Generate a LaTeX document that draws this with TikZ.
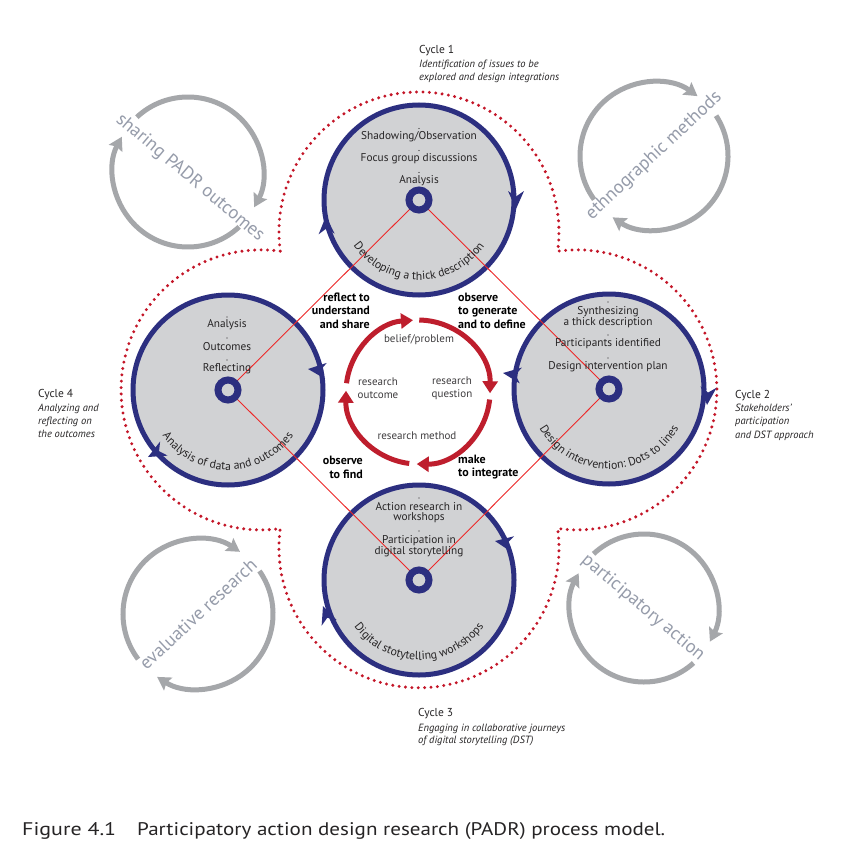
\documentclass[tikz,border=0pt]{standalone}
\usepackage{fontspec}
\setmainfont{PT Sans}
\usetikzlibrary{arrows.meta,decorations.text}
\definecolor{navy}{RGB}{44,47,128}
\definecolor{cfill}{RGB}{209,210,212}
\definecolor{dotred}{RGB}{196,22,40}
\definecolor{linered}{RGB}{237,40,40}
\definecolor{cycred}{RGB}{190,30,45}
\definecolor{garc}{RGB}{165,167,170}
\definecolor{gtext}{RGB}{150,156,170}
\definecolor{dtext}{RGB}{38,36,37}
\definecolor{ctext}{RGB}{62,60,62}
\newcommand{\navtip}[3]{\fill[navy,shift={(#1,#2)},rotate=#3] (0,0) -- (-18,8) -- (-12.5,0) -- (-18,-8) -- cycle;}
\tikzset{
  bigc/.style={circle, draw=navy, line width=5pt, fill=cfill, minimum size=190pt, inner sep=0pt},
  ring/.style={circle, draw=navy, line width=7pt, fill=cfill, minimum size=20pt, inner sep=0pt},
  item/.style={font=\fontsize{11.3}{10.5}\selectfont, text=dtext, inner sep=0pt, align=center},
  blab/.style={font=\bfseries\fontsize{12}{13.5}\selectfont, inner sep=0pt},
  cyct/.style={font=\fontsize{11.5}{13}\selectfont, text=dtext, inner sep=0pt, anchor=base west},
  cyci/.style={font=\itshape\fontsize{10.5}{13}\selectfont, text=dtext, inner sep=0pt, anchor=base west},
  ctxt/.style={font=\fontsize{11}{12.5}\selectfont, text=ctext, inner sep=0pt, align=center},
  gtxt/.style={font=\fontsize{18.5}{18.5}\selectfont, text=gtext, inner sep=0pt},
  garcst/.style={draw=garc, line width=5pt, -{Stealth[length=13pt,width=15pt,inset=2pt]}},
  cycar/.style={draw=cycred, line width=5pt, -{Triangle[length=12pt,width=15pt]}},
  redln/.style={draw=linered, line width=0.9pt},
  dotted red/.style={draw=dotred, line width=3.3pt, line cap=round, dash pattern=on 0pt off 6.4pt},
  curv/.style={decorate, decoration={text along path, text align=center, text color=dtext, text={#1}}}
}
\begin{document}
\begin{tikzpicture}[x=1pt,y=1pt]
\useasboundingbox (0,0) rectangle (845,-853);
\fill[white] (0,0) rectangle (845,-853);

% dotted outline (four lobes)
\draw[dotted red] (280.3,-251.2)
  arc[start angle=187.9, end angle=-7.9, radius=140]
  arc[start angle=97.9, end angle=-97.9, radius=140]
  arc[start angle=7.9, end angle=-187.9, radius=140]
  arc[start angle=-82.1, end angle=-277.9, radius=140];

% grey corner cycles
\coordinate (G1) at (188,-172);
\coordinate (G2) at (654,-156);
\coordinate (G3) at (198,-614);
\coordinate (G4) at (644,-608);
\draw[garcst] ([shift={(133:75)}]G1) arc[start angle=133, end angle=-28, radius=75];
\draw[garcst] ([shift={(-47:75)}]G1) arc[start angle=-47, end angle=-208, radius=75];
\draw[garcst] ([shift={(216:74)}]G2) arc[start angle=216, end angle=54, radius=74];
\draw[garcst] ([shift={(33:74)}]G2) arc[start angle=33, end angle=-124, radius=74];
\draw[garcst] ([shift={(217:75)}]G3) arc[start angle=217, end angle=56, radius=75];
\draw[garcst] ([shift={(35:75)}]G3) arc[start angle=35, end angle=-123, radius=75];
\draw[garcst] ([shift={(133:74)}]G4) arc[start angle=133, end angle=-27, radius=74];
\draw[garcst] ([shift={(-48:74)}]G4) arc[start angle=-48, end angle=-208, radius=74];
\node[gtxt, rotate=-40] (g1t) at (190,-178) {sharing PADR outcomes};
\node[gtxt, rotate=43] (g2t) at (G2) {ethnographic methods};
\node[gtxt, rotate=43] (g3t) at (G3) {evaluative research};
\node[gtxt, rotate=-40] (g4t) at (643,-608) {participatory action};

% big circles
\node[bigc] (C1) at (419,-200) {};
\node[bigc] (C2) at (609,-389) {};
\node[bigc] (C3) at (419,-580) {};
\node[bigc] (C4) at (228,-390) {};

% red diamond lines
\draw[redln] (C1.center) -- (C2.center) -- (C3.center) -- (C4.center) -- (C1.center);

% rings
\node[ring] (R1) at (C1.center) {};
\node[ring] (R2) at (C2.center) {};
\node[ring] (R3) at (C3.center) {};
\node[ring] (R4) at (C4.center) {};

% arrow barbs on circles
\navtip{516}{-209}{-90}
\navtip{326}{-216}{92}
\navtip{503}{-373}{172}
\navtip{707}{-405}{-95}
\navtip{495}{-541}{170}
\navtip{323}{-606}{110}
\navtip{308}{-369}{174}
\navtip{148}{-457}{208}

% items top circle
\foreach \y in {128.5,150.5,172.5} \fill[dtext] (419,-\y) circle (0.7);
\node[item] (t1) at (419,-137) {Shadowing/Observation};
\node[item] (t2) at (419,-159) {Focus group discussions};
\node[item] (t3) at (419,-181) {Analysis};
% right circle
\foreach \y in {302,335,358} \fill[dtext] (608,-\y) circle (0.7);
\node[item] (r1) at (608,-317) {Synthesizing\\a thick description};
\node[item] (r2) at (608,-344) {Participants identified};
\node[item] (r3) at (608,-367) {Design intervention plan};
% bottom circle
\foreach \y in {498,531} \fill[dtext] (419,-\y) circle (0.7);
\node[item] (b1) at (419,-512.5) {Action research in\\workshops};
\node[item] (b2) at (419,-546) {Participation in\\digital storytelling};
% left circle
\foreach \y in {317,338,360} \fill[dtext] (227,-\y) circle (0.7);
\node[item] (l1) at (227,-325) {Analysis};
\node[item] (l2) at (227,-347) {Outcomes};
\node[item] (l3) at (227,-369) {Reflecting};

% curved texts
\path[curv={|\fontsize{11.8}{12}\selectfont|Developing a thick description}] ([shift={(195:80)}]C1.center) arc[start angle=195, end angle=345, radius=80];
\path[curv={|\fontsize{11.8}{12}\selectfont|Design intervention: Dots to lines}] ([shift={(195:80)}]C2.center) arc[start angle=195, end angle=345, radius=80];
\path[curv={|\fontsize{11.8}{12}\selectfont|Digital stotytelling workshops}] ([shift={(195:80)}]C3.center) arc[start angle=195, end angle=345, radius=80];
\path[curv={|\fontsize{11.8}{12}\selectfont|Analysis of data and outcomes}] ([shift={(195:80)}]C4.center) arc[start angle=195, end angle=345, radius=80];

% bold labels
\node[blab, anchor=east, align=right] (lab1) at (370,-310.5) {reflect to\\understand\\and share};
\node[blab, anchor=west, align=left] (lab2) at (458,-310.5) {observe\\to generate\\and to define};
\node[blab, anchor=east, align=right] (lab3) at (363,-467.5) {observe\\to find};
\node[blab, anchor=west, align=left] (lab4) at (458,-467) {make\\to integrate};

% central red cycle
\coordinate (M) at (418,-392);
\draw[cycar] ([shift={(89:72)}]M) arc[start angle=89, end angle=-1, radius=72];
\draw[cycar] ([shift={(-6:72)}]M) arc[start angle=-6, end angle=-91, radius=72];
\draw[cycar] ([shift={(-97:72)}]M) arc[start angle=-97, end angle=-181, radius=72];
\draw[cycar] ([shift={(173:72)}]M) arc[start angle=173, end angle=94, radius=72];
\node[ctxt] (m1) at (419,-340) {belief/problem};
\node[ctxt] (m2) at (452,-388) {research\\question};
\node[ctxt] (m3) at (378,-388) {research\\outcome};
\node[ctxt] (m4) at (417,-436) {research method};

% cycle labels
\node[cyct] (k1a) at (419,-54) {Cycle 1};
\node[cyci] (k1b) at (419,-68) {Identification of issues to be};
\node[cyci] (k1c) at (419,-81) {explored and design integrations};
\node[cyct] (k2a) at (735,-398) {Cycle 2};
\node[cyci] (k2b) at (735,-411) {Stakeholders’};
\node[cyci] (k2c) at (735,-424.5) {participation};
\node[cyci] (k2d) at (735,-438) {and DST approach};
\node[cyct] (k3a) at (418,-716) {Cycle 3};
\node[cyci] (k3b) at (418,-731) {Engaging in collaborative journeys};
\node[cyci] (k3c) at (418,-743) {of digital storytelling (DST)};
\node[cyct] (k4a) at (38,-397) {Cycle 4};
\node[cyci] (k4b) at (38,-411) {Analyzing and};
\node[cyci] (k4c) at (38,-424) {reflecting on};
\node[cyci] (k4d) at (38,-437) {the outcomes};

% caption
\node[anchor=base west, inner sep=0pt, text=dtext] (cap1) at (22,-835) {\resizebox{94pt}{13pt}{Figure 4.1}};
\node[anchor=base west, inner sep=0pt, text=dtext] (cap2) at (137,-835) {\resizebox{528pt}{13pt}{Participatory action design research (PADR) process model.}};
\end{tikzpicture}
\end{document}
